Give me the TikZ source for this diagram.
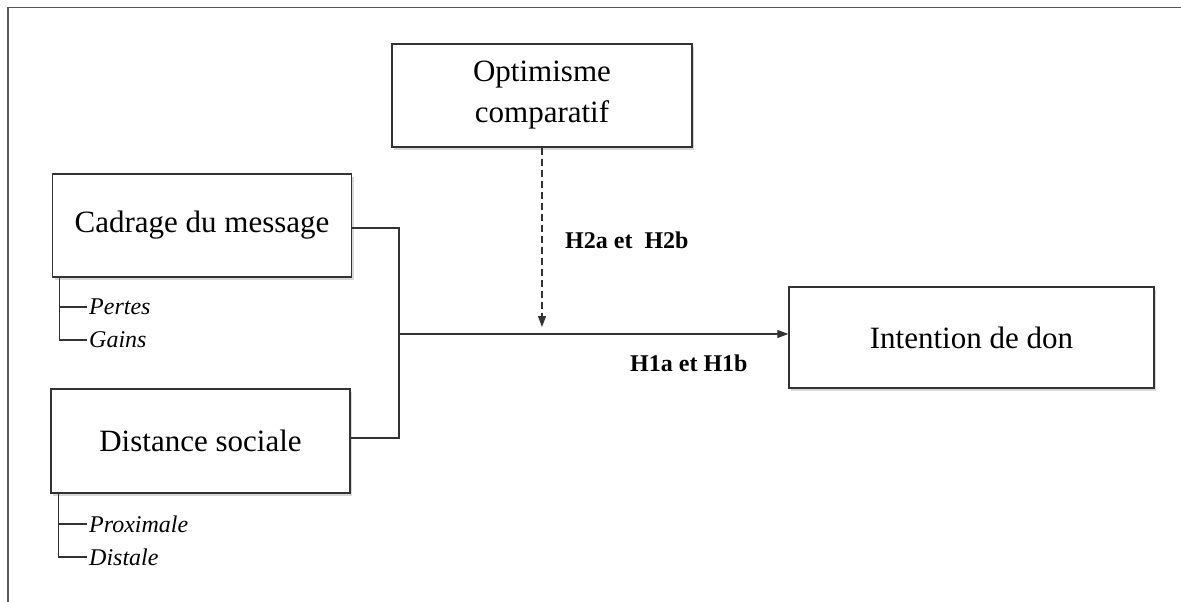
\documentclass[tikz,border=0pt]{standalone}
\usepackage{fontspec}
\setmainfont{Liberation Serif}
\usetikzlibrary{arrows.meta,shadows,calc}
\definecolor{linec}{HTML}{333333}
\tikzset{
  box/.style={draw=linec, line width=1.4pt, fill=white, inner sep=0pt,
    drop shadow={shadow xshift=2pt, shadow yshift=-3pt, opacity=0.25, fill=black!60},
    font=\fontsize{31}{38}\selectfont, align=center},
  conn/.style={draw=linec, line width=1.2pt},
  arr/.style={conn, -{Triangle[length=11pt,width=8pt]}},
  sub/.style={anchor=west, inner sep=2pt, font=\fontsize{24}{28}\selectfont\itshape},
  hyp/.style={anchor=west, inner sep=0pt, font=\fontsize{24}{28}\selectfont\bfseries},
}
\begin{document}
\begin{tikzpicture}[x=1pt,y=-1pt]
\useasboundingbox (0,0) rectangle (1181,602);
\fill[white] (0,0) rectangle (1181,602);
% frame
\draw[draw=black!65, line width=1.5pt] (8,602) -- (8,7.5) -- (1181,7.5);
% boxes
\node[box, minimum width=300pt, minimum height=103pt] (opt) at (542,95.5) {Optimisme\\[3pt]comparatif};
\node[box, minimum width=299pt, minimum height=103pt] (cad) at (202,225.5) {Cadrage du message};
\node[box, minimum width=299pt, minimum height=104pt] (dis) at (200.5,441) {Distance sociale};
\node[box, minimum width=365pt, minimum height=101pt] (int) at (971.5,337.5) {Intention de don};
% sub items
\node[sub] (per) at (87,307) {Pertes};
\node[sub] (gai) at (87,340) {Gains};
\node[sub] (pro) at (87,524) {Proximale};
\node[sub] (dst) at (87,557) {Distale};
\coordinate (vc) at ($(cad.south west)+(7.5,0)$);
\coordinate (vd) at ($(dis.south west)+(8,0)$);
\draw[conn] (vc) |- (gai.west);
\draw[conn] (vc |- per.west) -- (per.west);
\draw[conn] (vd) |- (dst.west);
\draw[conn] (vd |- pro.west) -- (pro.west);
% connectors
\coordinate (J) at (399,334);
\draw[conn] ([yshift=-2.5pt]cad.east) -| (J);
\draw[conn] ([yshift=3pt]dis.east) -| (J);
\draw[arr] (J) -- (J -| int.west);
\coordinate (M) at (542,327);
\draw[arr, dashed, dash pattern=on 7pt off 4pt] (opt.south) -- (M);
% labels
\node[hyp] (h2) at (565,240) {H2a et\ \ H2b};
\node[hyp] (h1) at (630,363) {H1a et H1b};
\end{tikzpicture}
\end{document}
